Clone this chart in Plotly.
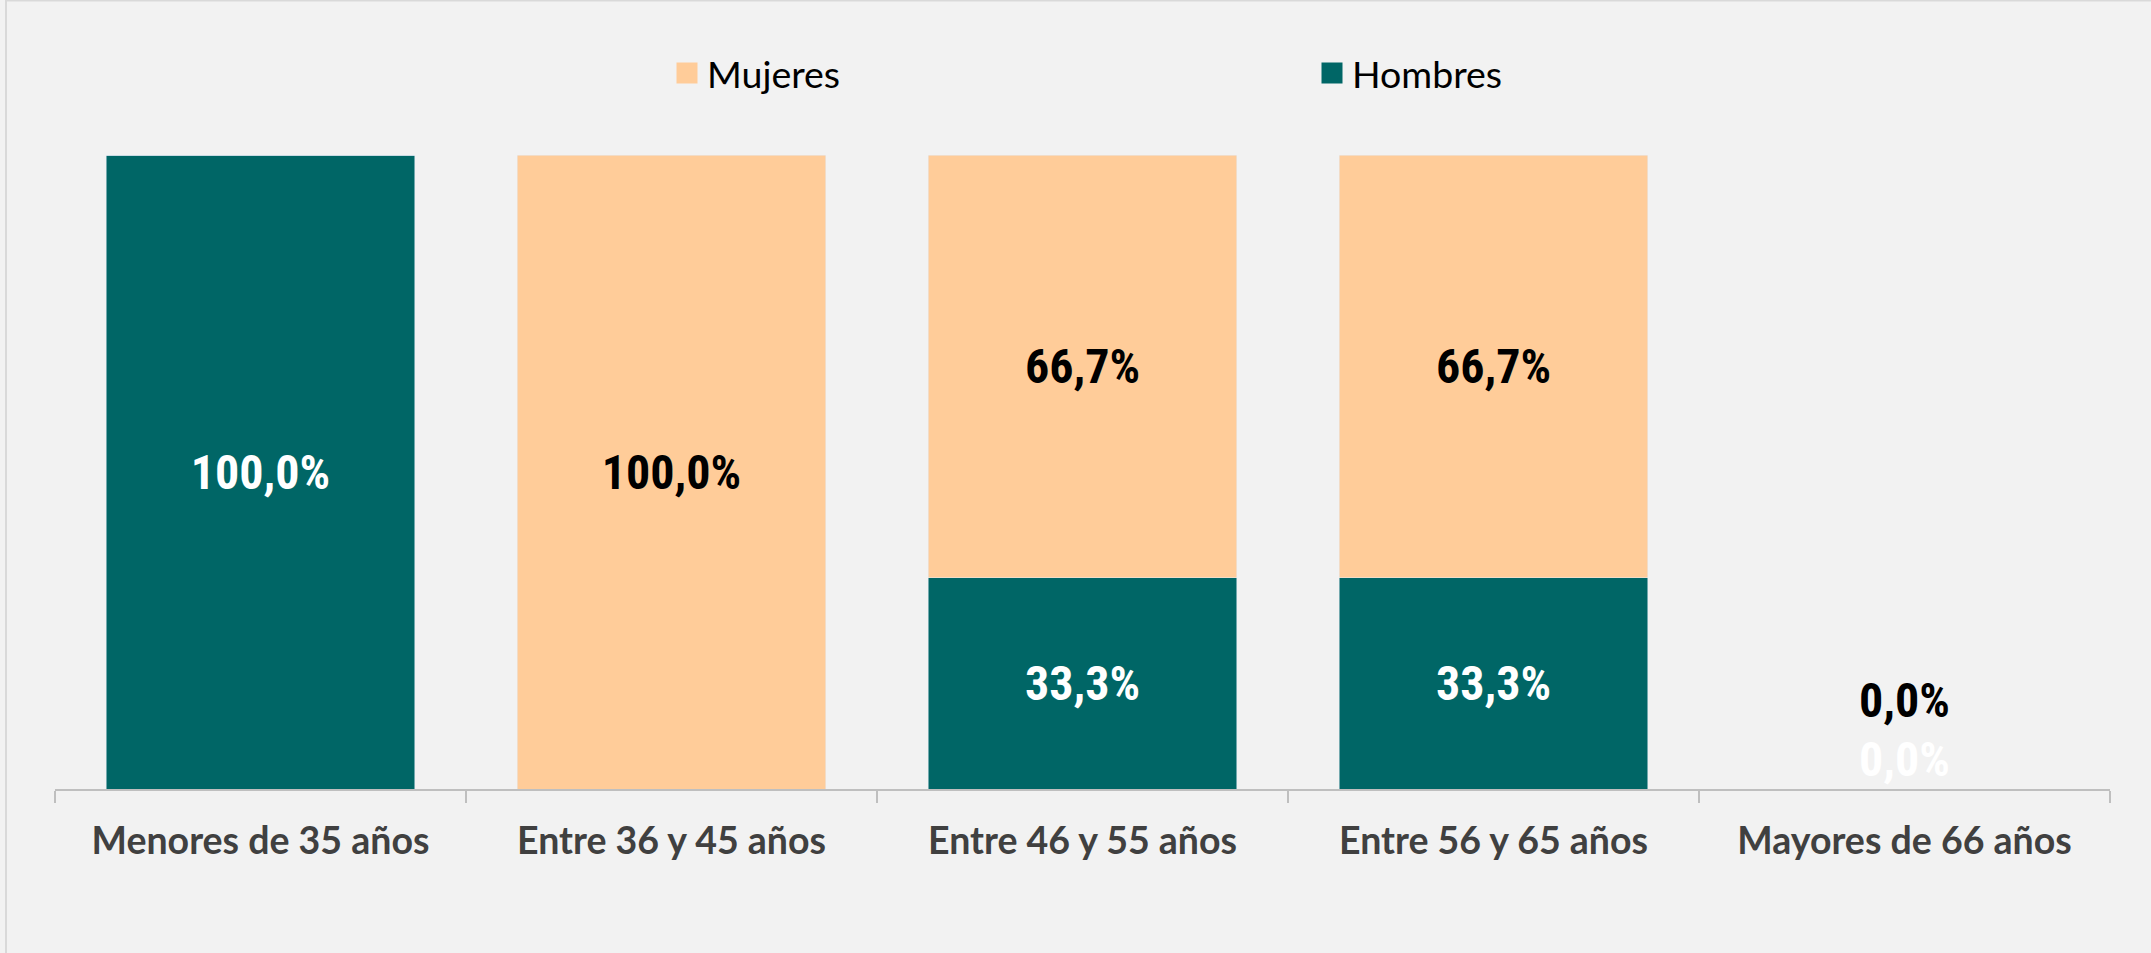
import plotly.graph_objects as go

categories = ["Menores de 35 años", "Entre 36 y 45 años", "Entre 46 y 55 años",
              "Entre 56 y 65 años", "Mayores de 66 años"]
hombres = [100.0, 0.0, 33.3, 33.3, 0.0]
mujeres = [0.0, 100.0, 66.7, 66.7, 0.0]

C_H = "#006666"
C_M = "#FFCC99"
BG = "#F2F2F2"
W, H = 2151, 953
L, R, T, B = 55, 41, 155, 164
PW, PH = W - L - R, H - T - B

LABEL_FONT = "Roboto Condensed, Liberation Sans Narrow, DejaVu Sans Condensed, sans-serif"
TEXT_FONT = "Lato, Open Sans, sans-serif"
LBL_SIZE = 48


def fmt(v):
    return f"{v:.1f}".replace(".", ",") + "%"


totals = [h + m for h, m in zip(hombres, mujeres)]
txt_h = [fmt(v) if v > 0 else "" for v in hombres]
txt_m = [fmt(v) if v > 0 else "" for v in mujeres]

fig = go.Figure()
fig.add_trace(go.Bar(x=categories, y=hombres, name="Hombres", marker_color=C_H,
                     text=txt_h, textposition="inside", insidetextanchor="middle",
                     textangle=0, constraintext="none",
                     textfont=dict(family=LABEL_FONT, size=LBL_SIZE, color="white", weight="bold"),
                     showlegend=False))
fig.add_trace(go.Bar(x=categories, y=mujeres, name="Mujeres", marker_color=C_M,
                     text=txt_m, textposition="inside", insidetextanchor="middle",
                     textangle=0, constraintext="none",
                     textfont=dict(family=LABEL_FONT, size=LBL_SIZE, color="black", weight="bold"),
                     showlegend=False))

# legend entries (Mujeres first, then Hombres)
for name, col in [("Mujeres", C_M), ("Hombres", C_H)]:
    fig.add_trace(go.Scatter(x=[None], y=[None], mode="markers", name=name,
                             marker=dict(symbol="square", size=16, color=col,
                                         line=dict(color=col, width=5)),
                             showlegend=True))

# zero-value labels for empty categories
for cat, h, m, tot in zip(categories, hombres, mujeres, totals):
    if tot == 0:
        fig.add_annotation(x=cat, y=0, text=fmt(h), showarrow=False, yshift=30,
                           yanchor="middle",
                           font=dict(family=LABEL_FONT, size=LBL_SIZE, color="white", weight="bold"))
        fig.add_annotation(x=cat, y=0, text=fmt(m), showarrow=False, yshift=89,
                           yanchor="middle",
                           font=dict(family=LABEL_FONT, size=LBL_SIZE, color="black", weight="bold"))

fig.add_shape(type="rect", xref="paper", yref="paper",
              x0=(6 - L) / PW, x1=(W + 20 - L) / PW,
              y0=-(H + 20 - (T + PH)) / PH, y1=(T + PH - 0.5) / PH,
              line=dict(color="#D9D9D9", width=2), fillcolor="rgba(0,0,0,0)", layer="below")

fig.update_layout(
    width=W, height=H,
    margin=dict(l=L, r=R, t=T, b=B, pad=0),
    paper_bgcolor=BG, plot_bgcolor=BG,
    barmode="stack", bargap=0.25,
    legend=dict(orientation="h", x=(667 - L) / PW, xanchor="left",
                y=1 + (T - 73) / PH, yanchor="middle",
                traceorder="normal",
                entrywidth=600, entrywidthmode="pixels",
                font=dict(family=TEXT_FONT, size=37.5, color="black"),
                bgcolor="rgba(0,0,0,0)"),
    xaxis=dict(showline=True, linecolor="#BFBFBF", linewidth=2,
               ticks="outside", ticklen=12, tickcolor="#BFBFBF", tickwidth=2,
               tickson="boundaries", showgrid=False, zeroline=False,
               ticklabelstandoff=18,
               tickfont=dict(family=TEXT_FONT, size=37.5, color="#404040", weight="bold")),
    yaxis=dict(range=[0, 100], visible=False, showgrid=False, zeroline=False),
    uniformtext=dict(mode=False),
)

fig.write_html("out.html", config={"displayModeBar": False},
               post_script="document.body.style.margin='0';document.body.style.overflow='hidden';")
